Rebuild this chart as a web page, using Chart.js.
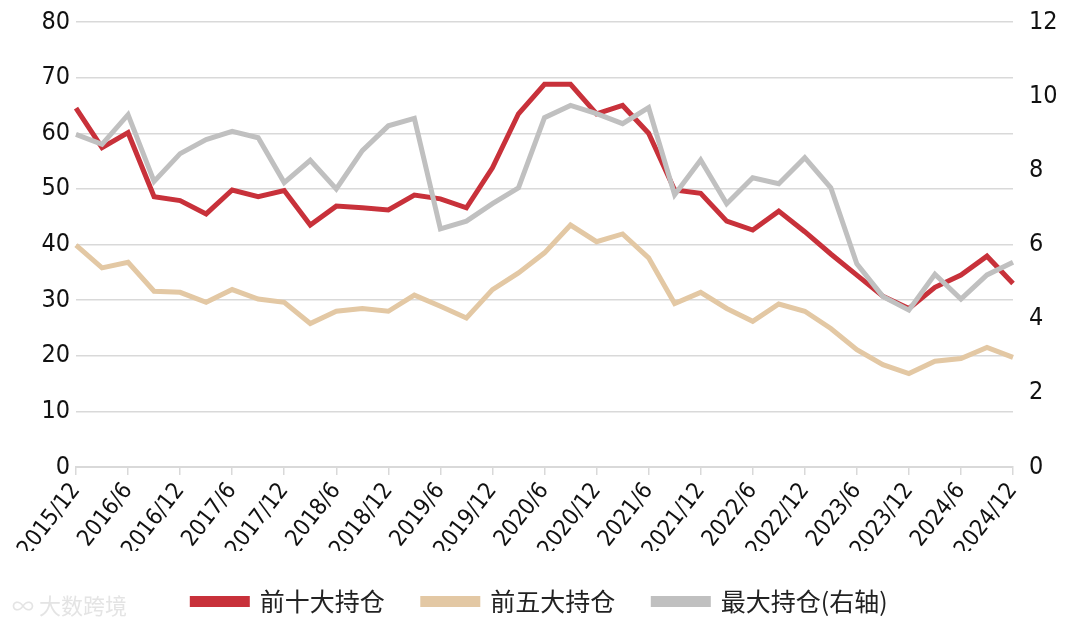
<!DOCTYPE html>
<html>
<head>
<meta charset="utf-8">
<script src="https://cdn.jsdelivr.net/npm/chart.js@4"></script>
<style>
  html, body { margin: 0; padding: 0; background: #fff; }
  #wrap { position: relative; width: 1080px; height: 624px; }
  #mark { position: absolute; left: 12px; top: 588px; font: 22px "Noto Sans CJK SC", sans-serif; color: #e4e4e4; }
</style>
</head>
<body>
<div id="wrap">
  <canvas id="holdChart" width="1080" height="624"></canvas>
  <div id="mark">∞ 大数跨境</div>
</div>
<script>
// quarterly points, 2015/12 .. 2024/12
const quarters = [
  '2015/12','2016/3','2016/6','2016/9','2016/12','2017/3','2017/6','2017/9','2017/12',
  '2018/3','2018/6','2018/9','2018/12','2019/3','2019/6','2019/9','2019/12',
  '2020/3','2020/6','2020/9','2020/12','2021/3','2021/6','2021/9','2021/12',
  '2022/3','2022/6','2022/9','2022/12','2023/3','2023/6','2023/9','2023/12',
  '2024/3','2024/6','2024/9','2024/12'
];

const top10 = [64.5,57.4,60.1,48.6,47.9,45.5,49.8,48.6,49.7,43.5,46.9,46.6,46.2,48.9,48.2,46.6,53.8,63.5,68.8,68.8,
               63.5,65.0,60.0,49.8,49.2,44.2,42.6,46.0,42.3,38.3,34.5,30.7,28.5,32.3,34.5,37.9,33.0];
const top5 = [39.9,35.8,36.8,31.6,31.4,29.6,31.9,30.2,29.6,25.8,28.0,28.5,28.0,30.9,28.9,26.8,31.9,34.9,38.5,43.5,
              40.5,41.9,37.6,29.4,31.4,28.5,26.2,29.3,28.0,24.9,21.1,18.4,16.8,19.0,19.5,21.5,19.7];
// right axis
const top1 = [8.97,8.7,9.5,7.7,8.45,8.83,9.05,8.88,7.67,8.27,7.5,8.53,9.2,9.4,6.42,6.63,7.1,7.53,9.42,9.75,
              9.53,9.26,9.69,7.34,8.28,7.1,7.8,7.64,8.34,7.53,5.48,4.6,4.23,5.2,4.53,5.18,5.52];

const seriesNames = ['前十大持仓', '前五大持仓', '最大持仓(右轴)'];

const numFont = { family: "'Liberation Sans Narrow', 'DejaVu Sans Condensed', sans-serif", size: 25 };
const gridGray = '#d9d9d9';

const ctx = document.getElementById('holdChart');
new Chart(ctx, {
  type: 'line',
  data: {
    labels: quarters,
    datasets: [
      { label: seriesNames[0], data: top10, yAxisID: 'y', borderColor: '#c8313a', backgroundColor: '#c8313a',
        borderWidth: 5, pointRadius: 0, tension: 0, order: 1 },
      { label: seriesNames[1], data: top5, yAxisID: 'y', borderColor: '#e3c8a4', backgroundColor: '#e3c8a4',
        borderWidth: 5, pointRadius: 0, tension: 0, order: 2 },
      { label: seriesNames[2], data: top1, yAxisID: 'y2', borderColor: '#c0c0c0', backgroundColor: '#c0c0c0',
        borderWidth: 5, pointRadius: 0, tension: 0, order: 0 }
    ]
  },
  options: {
    responsive: false,
    animation: false,
    layout: { padding: { top: 0, bottom: 0 } },
    plugins: {
      tooltip: { enabled: false },
      legend: {
        position: 'bottom',
        labels: {
          sort: (a, b) => a.datasetIndex - b.datasetIndex,
          boxWidth: 55,
          boxHeight: 6,
          padding: 38,
          color: '#222',
          font: { family: "'Noto Sans CJK SC', sans-serif", size: 25 }
        }
      }
    },
    scales: {
      x: {
        offset: false,
        grid: {
          drawOnChartArea: false,
          drawTicks: true,
          tickLength: 8,
          lineWidth: 1.5,
          color: (c) => (c.index % 2 === 0 ? gridGray : 'rgba(0,0,0,0)')
        },
        border: { display: true, color: gridGray, width: 2 },
        ticks: {
          autoSkip: false,
          maxRotation: 52,
          minRotation: 52,
          color: '#111',
          font: { family: numFont.family, size: 23 },
          callback: (v, i) => (i % 2 === 0 ? quarters[i] : '')
        },
        afterFit: (axis) => { axis.height = 84; }
      },
      y: {
        position: 'left',
        min: 0, max: 80,
        ticks: { stepSize: 10, color: '#111', font: numFont, padding: 6 },
        grid: { color: gridGray, lineWidth: 1.5, drawTicks: false },
        border: { display: false },
        afterFit: (axis) => { axis.width = 76; axis.paddingTop = 22; }
      },
      y2: {
        position: 'right',
        min: 0, max: 12,
        ticks: { stepSize: 2, color: '#111', font: numFont, padding: 16 },
        grid: { drawOnChartArea: false, drawTicks: false },
        border: { display: false },
        afterFit: (axis) => { axis.width = 67; axis.paddingTop = 22; }
      }
    }
  }
});
</script>
</body>
</html>
